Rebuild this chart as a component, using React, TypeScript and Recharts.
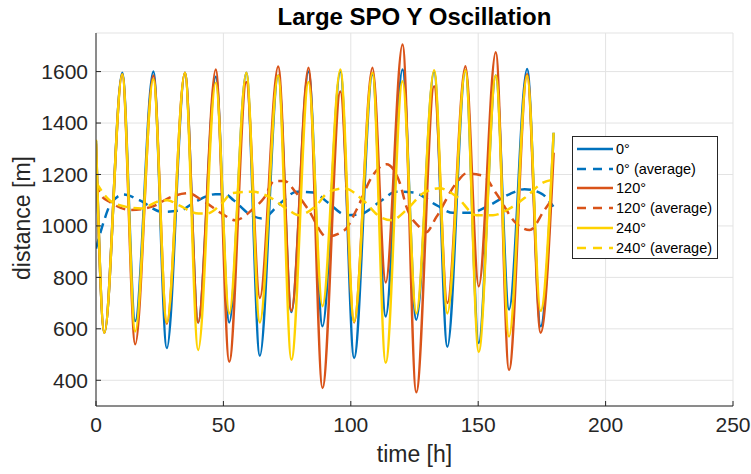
import { LineChart, Line, XAxis, YAxis, CartesianGrid } from "recharts";

// shared sample times (h) for the three raw distance curves: start, troughs, peaks, end
const solidTime = [0, 3.3, 10.3, 15.4, 22.5, 27.8, 34.9, 40.1, 47.0, 52.3, 59.0, 64.3, 71.5, 76.7, 83.4, 88.9, 95.9, 101.3, 108.5, 113.7, 120.3, 125.7, 132.7, 137.9, 145.0, 150.2, 156.9, 162.1, 169.2, 174.5, 179.6];

const dist0 = [1330, 585, 1595, 630, 1600, 525, 1595, 625, 1580, 625, 1595, 495, 1585, 665, 1600, 610, 1600, 487, 1590, 648, 1608, 635, 1600, 530, 1605, 545, 1585, 675, 1610, 610, 1362];
const dist120 = [1320, 585, 1590, 540, 1585, 620, 1595, 625, 1608, 472, 1560, 720, 1620, 670, 1615, 370, 1523, 625, 1615, 780, 1705, 353, 1543, 700, 1621, 765, 1675, 440, 1590, 585, 1285];
const dist240 = [1335, 585, 1590, 590, 1570, 625, 1595, 518, 1557, 660, 1595, 625, 1585, 480, 1560, 688, 1608, 628, 1595, 468, 1562, 660, 1605, 660, 1605, 510, 1585, 570, 1585, 670, 1362];

// running averages
const avg0Time = [0, 3, 5.6, 10.8, 17, 25.9, 33, 39, 46.8, 50.7, 54, 59.9, 65.1, 72.3, 78.8, 85.3, 91.1, 98.3, 103.5, 111.4, 117.9, 124.5, 133.6, 140.1, 146.7, 154.5, 162.4, 168.2, 174.8, 179.5];
const avg0 = [912, 1015, 1083, 1122, 1100, 1055, 1060, 1094, 1123, 1123, 1100, 1048, 1029, 1088, 1133, 1130, 1090, 1042, 1045, 1094, 1133, 1130, 1081, 1051, 1051, 1081, 1124, 1143, 1126, 1075];

const avg120Time = [0, 1.7, 5.3, 13.5, 22, 29.8, 36.3, 41.6, 49.4, 54.6, 61.2, 66, 70, 74, 78.2, 83.4, 90.5, 97.6, 102.2, 108.7, 114, 119.2, 121.8, 127, 129.5, 133.6, 141.5, 145.4, 151.9, 157.1, 165, 170.2, 176, 179.5];
const avg120 = [1168, 1122, 1094, 1062, 1075, 1114, 1127, 1100, 1048, 1022, 1062, 1110, 1175, 1175, 1133, 1062, 958, 984, 1062, 1198, 1240, 1168, 1075, 995, 975, 1035, 1168, 1204, 1195, 1126, 1009, 984, 1062, 1110];

const avg240Time = [0, 5.3, 11.5, 18, 24, 28, 32.4, 40.3, 43.5, 49.4, 53.3, 61.2, 67.7, 75.6, 79.5, 86, 91.1, 97.6, 104.8, 111.4, 116, 121.8, 128.4, 134.9, 141.5, 149.3, 155.8, 162.4, 168.9, 175.4, 179.5];
const avg240 = [1170, 1100, 1075, 1068, 1094, 1100, 1081, 1048, 1048, 1088, 1127, 1133, 1114, 1062, 1042, 1075, 1130, 1146, 1100, 1036, 1022, 1062, 1127, 1146, 1114, 1042, 1042, 1068, 1114, 1168, 1180];

const xTicks = [0, 50, 100, 150, 200, 250];
const yTicks = [400, 600, 800, 1000, 1200, 1400, 1600];

const BLUE = "#0072BD";
const ORANGE = "#D95319";
const YELLOW = "#FFD200";
const INK = "#262626";
const FONT = '"Liberation Sans", Arial, Helvetica, sans-serif';

const toPoints = (ts: number[], vs: number[]) => ts.map((t, i) => ({ t, v: vs[i] }));

const series = [
  { name: "0°", color: BLUE, dashed: false, data: toPoints(solidTime, dist0) },
  { name: "0° (average)", color: BLUE, dashed: true, data: toPoints(avg0Time, avg0) },
  { name: "120°", color: ORANGE, dashed: false, data: toPoints(solidTime, dist120) },
  { name: "120° (average)", color: ORANGE, dashed: true, data: toPoints(avg120Time, avg120) },
  { name: "240°", color: YELLOW, dashed: false, data: toPoints(solidTime, dist240) },
  { name: "240° (average)", color: YELLOW, dashed: true, data: toPoints(avg240Time, avg240) },
];

function LegendBox() {
  return (
    <div style={{ position: "absolute", left: 572, top: 136, width: 144, padding: "2px 0 0 0", background: "#fff", border: `1px solid ${INK}`, fontFamily: FONT, fontSize: 14.5, color: "#000" }}>
      {series.map(s => (
        <div key={s.name} style={{ display: "flex", alignItems: "center", height: 19.8 }}>
          <svg width={43} height={6} style={{ flex: "none" }}>
            <line x1={4} y1={3} x2={40} y2={3} stroke={s.color} strokeWidth={2.5} strokeDasharray={s.dashed ? "9 7" : undefined} />
          </svg>
          <span style={{ whiteSpace: "nowrap" }}>{s.name}</span>
        </div>
      ))}
    </div>
  );
}

export default function App() {
  return (
    <div style={{ position: "absolute", left: 0, top: 0, width: 751, height: 474, background: "#fff" }}>
      <LineChart width={751} height={474} margin={{ top: 33, right: 18, bottom: 0, left: 0 }}>
        <CartesianGrid stroke="#e3e3e3" strokeWidth={1} />
        <XAxis
          type="number"
          dataKey="t"
          domain={[0, 250]}
          ticks={xTicks}
          height={68}
          allowDataOverflow
          tickSize={-5}
          tickMargin={16}
          stroke={INK}
          tick={{ fill: INK, fontSize: 21, fontFamily: FONT }}
        />
        <YAxis
          type="number"
          domain={[300, 1750]}
          ticks={yTicks}
          width={96}
          allowDataOverflow
          tickSize={-5}
          tickMargin={13}
          stroke={INK}
          tick={{ fill: INK, fontSize: 21, fontFamily: FONT }}
        />
        {series.map(s => (
          <Line
            key={s.name}
            data={s.data}
            dataKey="v"
            type="monotone"
            stroke={s.color}
            strokeWidth={2.5}
            strokeDasharray={s.dashed ? "10 6" : undefined}
            dot={false}
            activeDot={false}
            isAnimationActive={false}
          />
        ))}
      </LineChart>
      <div style={{ position: "absolute", left: 96, width: 637, top: 3, textAlign: "center", fontFamily: FONT, fontWeight: "bold", fontSize: 24, color: "#000" }}>
        Large SPO Y Oscillation
      </div>
      <div style={{ position: "absolute", left: 96, width: 637, top: 441, textAlign: "center", fontFamily: FONT, fontSize: 23, color: INK }}>
        time [h]
      </div>
      <div style={{ position: "absolute", left: 22, top: 218, transform: "translate(-50%, -50%) rotate(-90deg)", whiteSpace: "nowrap", fontFamily: FONT, fontSize: 23, color: INK }}>
        distance [m]
      </div>
      <LegendBox />
    </div>
  );
}
